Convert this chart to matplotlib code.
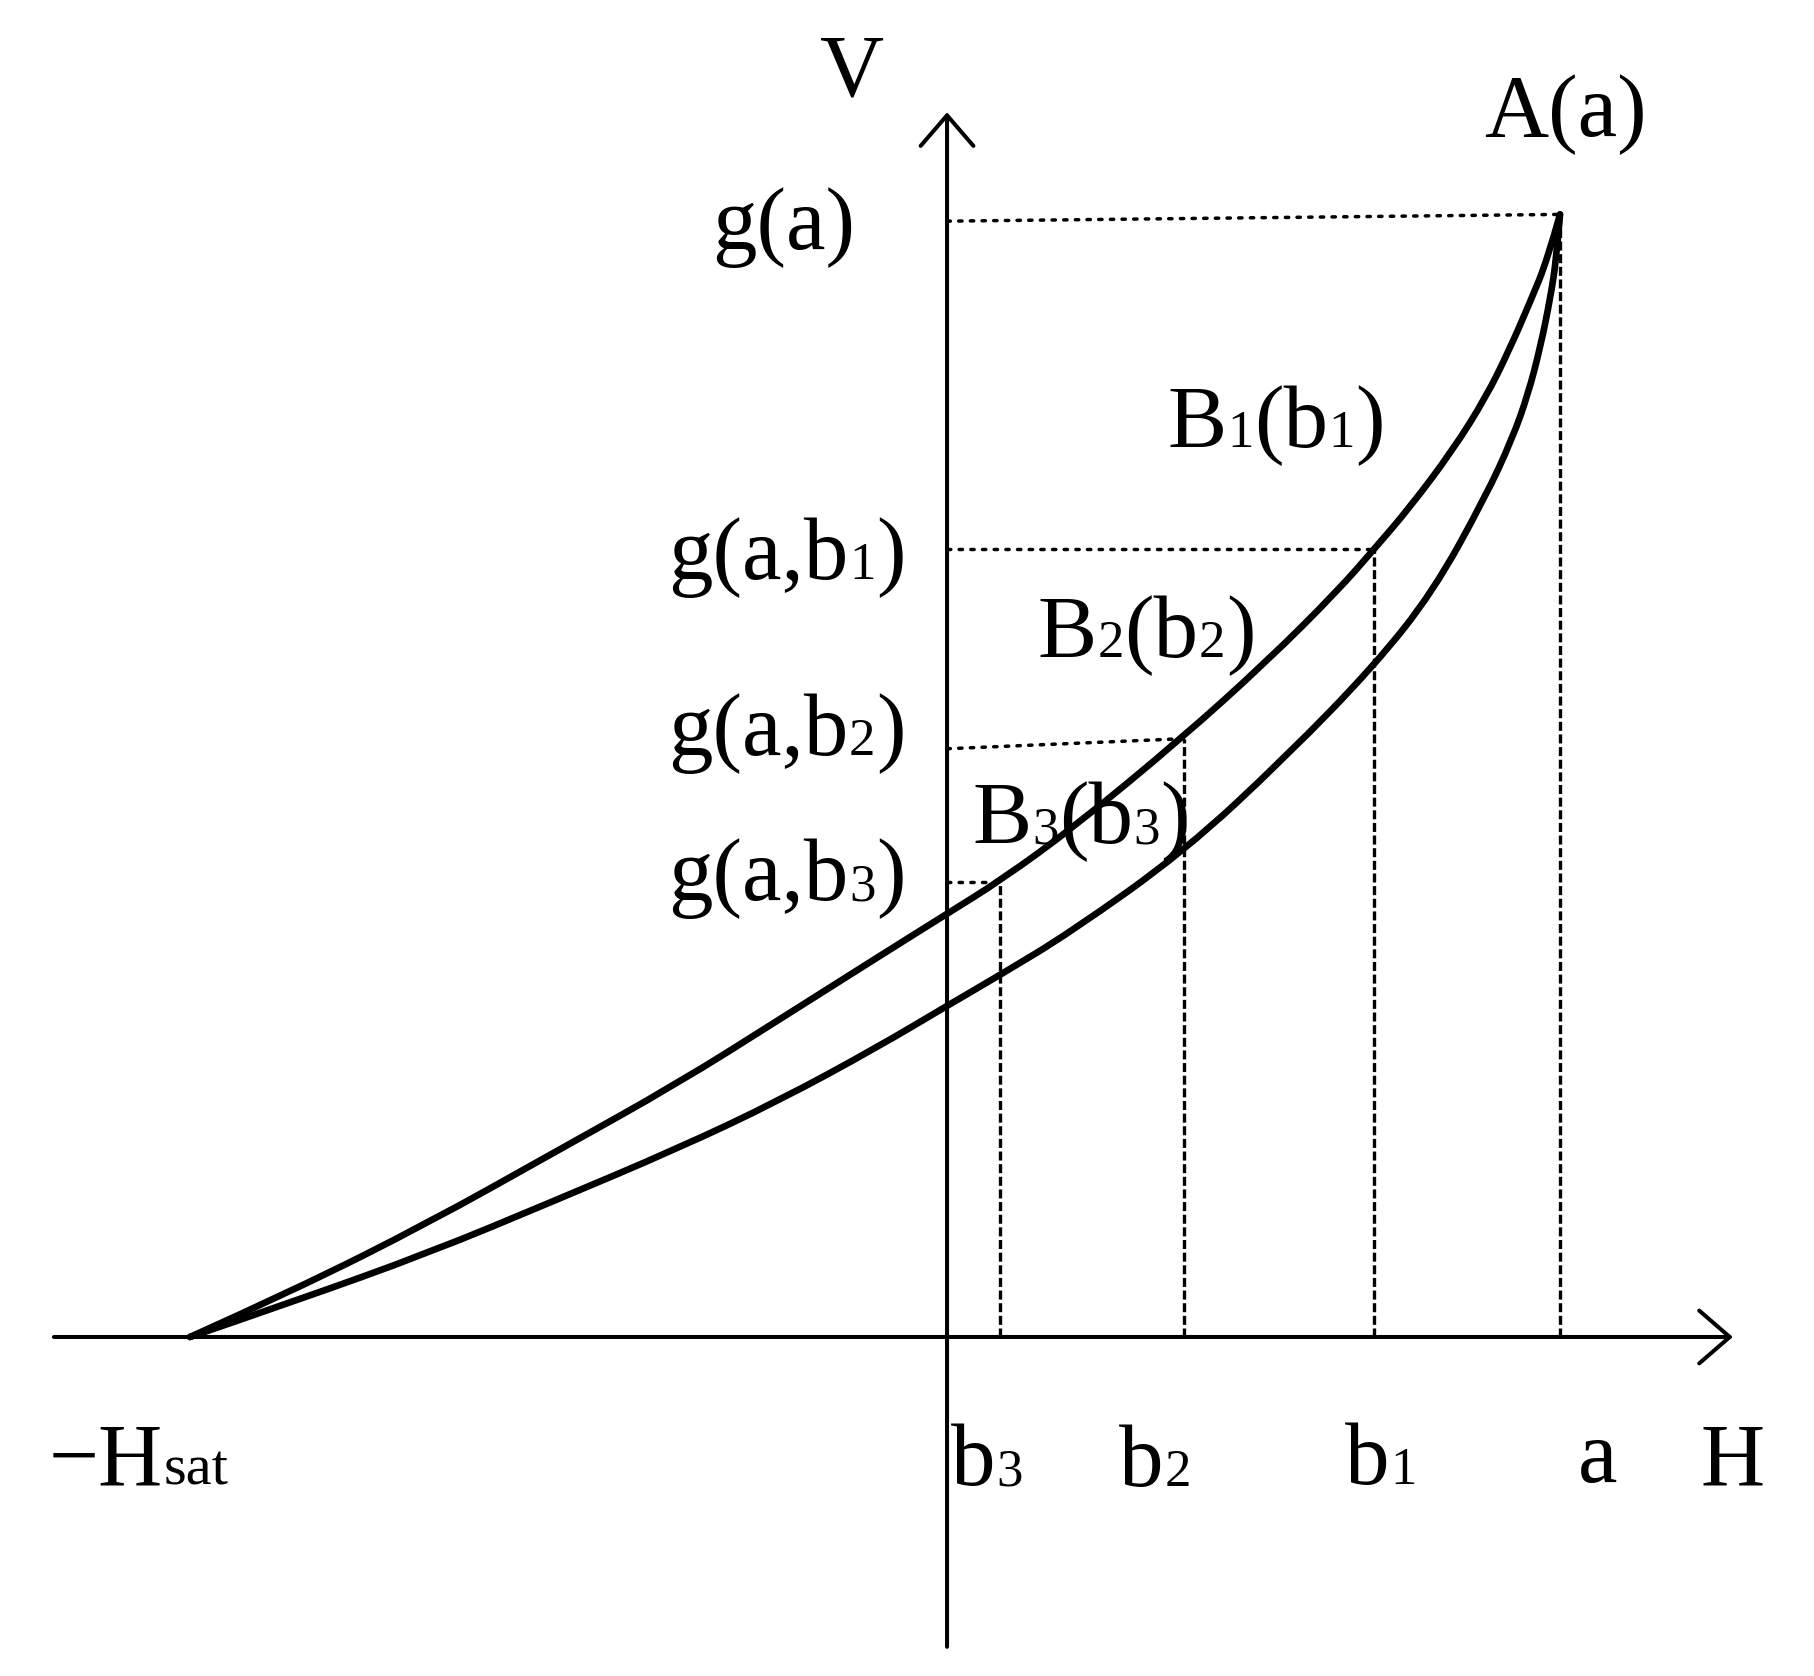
import matplotlib
matplotlib.use('Agg')
import matplotlib.pyplot as plt
from matplotlib import transforms
from matplotlib.path import Path
from matplotlib.patches import PathPatch

plt.rcParams['lines.scale_dashes'] = False

FONT = 'Liberation Serif'
BIG = 64
SUB = 38

# points (H scaled so a = 1, V scaled so g(a) = 1)
H_upper = [-1.235, -1.064, -0.845, -0.642, -0.439, -0.276, -0.114, 0.0, 0.088, 0.209,
           0.382, 0.522, 0.636, 0.697, 0.755, 0.825, 0.879, 0.917, 0.952, 0.979, 1.0]
V_upper = [0.0, 0.042, 0.102, 0.164, 0.226, 0.282, 0.338, 0.377, 0.407, 0.455,
           0.533, 0.602, 0.664, 0.702, 0.739, 0.790, 0.837, 0.879, 0.923, 0.959, 1.0]

H_lower = [-1.235, -1.064, -0.845, -0.642, -0.439, -0.276, -0.114, 0.0, 0.088, 0.2,
           0.388, 0.555, 0.697, 0.793, 0.878, 0.922, 0.948, 0.968, 0.984, 0.994, 1.0]
V_lower = [0.0, 0.032, 0.075, 0.121, 0.168, 0.210, 0.258, 0.295, 0.323, 0.360,
           0.433, 0.518, 0.598, 0.664, 0.748, 0.800, 0.840, 0.882, 0.925, 0.960, 1.0]

# reversal points a, b1, b2, b3 and their levels on the upper curve
h_marks = [1.0, 0.697, 0.387, 0.086]
g_marks = [1.0, 0.702, 0.533, 0.405]
g_left = [0.994, 0.702, 0.524, 0.405]   # the dotted lines lean a little in the original

fig = plt.figure(figsize=(18.15, 16.76), dpi=100)
ax = fig.add_axes([0, 0, 1, 1])
ax.set_xlim(-1.545, 1.416)
ax.set_ylim(-0.302, 1.191)
ax.axis('off')

# axes with open arrow heads
arrow = dict(arrowstyle='->,head_length=1.1,head_width=0.95', mutation_scale=20,
             lw=2.9, color='black', shrinkA=0, shrinkB=0)
ax.annotate('', xy=(1.282, 0), xytext=(-1.457, 0), arrowprops=arrow)
ax.annotate('', xy=(0, 1.091), xytext=(0, -0.276), arrowprops=arrow)

# guide lines
for h, g, gl in zip(h_marks, g_marks, g_left):
    ax.plot([0, h], [gl, g], color='black', lw=2.5, ls=(0, (2.4, 6.0)),
            dash_capstyle='round')
    ax.plot([h, h], [0, g], color='black', lw=2.4, ls=(0, (6.5, 2.6)))


def smooth_curve(xs, ys):
    # quadratic pieces through the midpoints, so the read points give a smooth stroke
    pts = list(zip(xs, ys))
    verts = [pts[0]]
    codes = [Path.MOVETO]
    for i in range(1, len(pts) - 2):
        mid = ((pts[i][0] + pts[i + 1][0]) / 2, (pts[i][1] + pts[i + 1][1]) / 2)
        verts += [pts[i], mid]
        codes += [Path.CURVE3, Path.CURVE3]
    verts += [pts[-2], pts[-1]]
    codes += [Path.CURVE3, Path.CURVE3]
    patch = PathPatch(Path(verts, codes), fill=False, edgecolor='black', lw=4.8,
                      capstyle='round', joinstyle='round')
    ax.add_patch(patch)


smooth_curve(H_upper, V_upper)
smooth_curve(H_lower, V_lower)


def rich(x, y, parts):
    # glue text pieces of different sizes on one baseline
    r = fig.canvas.get_renderer()
    off = 0.0
    for s, size in parts:
        tr = transforms.offset_copy(ax.transData, fig=fig, x=off, y=0, units='dots')
        t = ax.text(x, y, s, fontsize=size, family=FONT, transform=tr,
                    ha='left', va='baseline', color='black')
        w, h, d = r.get_text_width_height_descent(s, t.get_fontproperties(), ismath=False)
        off += w + 0.01 * size


rich(-0.207, 1.106, [('V', BIG)])
rich(0.876, 1.070, [('A(a)', BIG)])
rich(-0.383, 0.969, [('g(a)', BIG)])
rich(0.359, 0.793, [('B', BIG), ('1', SUB), ('(b', BIG), ('1', SUB), (')', BIG)])
rich(0.148, 0.606, [('B', BIG), ('2', SUB), ('(b', BIG), ('2', SUB), (')', BIG)])
rich(0.041, 0.440, [('B', BIG), ('3', SUB), ('(b', BIG), ('3', SUB), (')', BIG)])
rich(-0.455, 0.675, [('g(a,b', BIG), ('1', SUB), (')', BIG)])
rich(-0.455, 0.518, [('g(a,b', BIG), ('2', SUB), (')', BIG)])
rich(-0.455, 0.389, [('g(a,b', BIG), ('3', SUB), (')', BIG)])
rich(-1.465, -0.131, [('\u2212H', BIG), ('sat', 42)])
rich(0.007, -0.132, [('b', BIG), ('3', SUB)])
rich(0.281, -0.133, [('b', BIG), ('2', SUB)])
rich(0.649, -0.131, [('b', BIG), ('1', SUB)])
rich(1.029, -0.129, [('a', BIG)])
rich(1.230, -0.131, [('H', BIG)])

fig.savefig('out.png', dpi=100, facecolor='white')
